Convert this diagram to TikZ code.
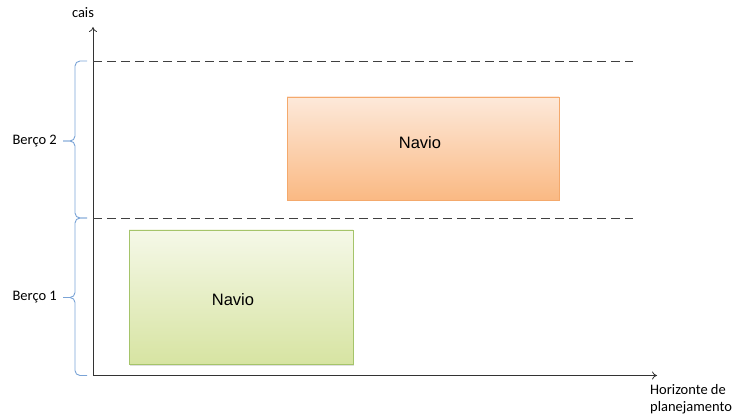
\documentclass[tikz,border=0pt]{standalone}
\usepackage{fontspec}
\setmainfont{Carlito}
\newfontfamily\navfont{Liberation Sans}
\usetikzlibrary{arrows.meta,shadows}

\definecolor{chavecor}{HTML}{7AA3D6}
\definecolor{laranjaborda}{HTML}{F4A96C}
\definecolor{laranjatopo}{HTML}{FDE9DA}
\definecolor{laranjabase}{HTML}{FAB983}
\definecolor{verdeborda}{HTML}{A5C46A}
\definecolor{verdetopo}{HTML}{F5F8E8}
\definecolor{verdebase}{HTML}{D7E4A2}

\begin{document}
\begin{tikzpicture}
    [x=1pt,y=-1pt,>={To[length=5pt,width=8pt]},
    every node/.style={font=\fontsize{14.5}{17}\selectfont},
    eixo/.style={draw=black!80,line width=0.8pt},
    limite/.style={draw=black!75,line width=0.8pt,dash pattern=on 9pt off 5pt},
    chave/.style={draw=chavecor,line width=0.9pt,rounded corners=5pt},
    navio/.style={draw,line width=0.8pt,inner sep=0pt,
      drop shadow={shadow xshift=1pt,shadow yshift=-1.5pt,opacity=0.25}},
    navtxt/.style={font=\navfont\fontsize{16.5}{18}\selectfont}]
    \useasboundingbox (0,0) rectangle (737,417);

    % eixos
    \coordinate (O) at (93,375.5);
    \coordinate (Ytopo) at (93,27);
    \coordinate (Xfim) at (657,375.5);
    \draw[eixo,->] (O) -- (Ytopo);
    \draw[eixo,->] (O) -- (Xfim);
    \node (cais) at (83,12.5) {cais};
    \node[anchor=north west,align=left,inner sep=0pt] (horiz) at (650,384.5)
    {Horizonte de\\planejamento};

    % limites dos bercos
    \coordinate (L2a) at (93,61);
    \coordinate (L2b) at (633,61);
    \coordinate (L1a) at (93,218);
    \coordinate (L1b) at (633,218);
    \draw[limite] (L2a) -- (L2b);
    \draw[limite] (L1a) -- (L1b);

    % chaves
    \coordinate (P2) at (63,141);
    \coordinate (P1) at (63,297.5);
    \draw[chave] (87,218) -- (75,218) -- (75,141) -- (P2);
    \draw[chave] (P2) -- (75,141) -- (75,61) -- (87,61);
    \draw[chave] (87,375.5) -- (75,375.5) -- (75,297.5) -- (P1);
    \draw[chave] (P1) -- (75,297.5) -- (75,218) -- (87,218);
    \node[left,inner sep=6pt] (B2) at (P2) {Berço 2};
    \node[left,inner sep=6pt] (B1) at (P1) {Berço 1};

    % navios
    \node[navio,draw=laranjaborda,top color=laranjatopo,bottom color=laranjabase,
      minimum width=272pt,minimum height=103pt] (N2) at (423,148.5) {};
    \node[navio,draw=verdeborda,top color=verdetopo,bottom color=verdebase,
      minimum width=224pt,minimum height=134pt] (N1) at (241,297) {};
    \node[navtxt] (T2) at (420,143) {Navio};
    \node[navtxt] (T1) at (233,300) {Navio};
\end{tikzpicture}
\end{document}
